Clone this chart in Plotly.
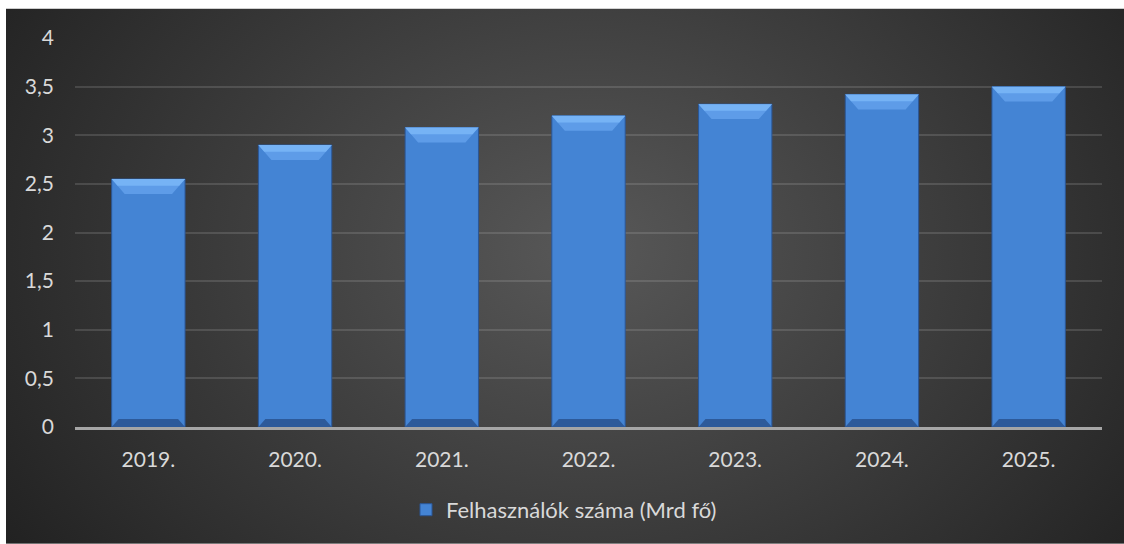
import base64
import plotly.graph_objects as go

# Data
years = ["2019.", "2020.", "2021.", "2022.", "2023.", "2024.", "2025."]
users_bn = [2.55, 2.9, 3.08, 3.2, 3.32, 3.42, 3.5]
series_name = "Felhasználók száma (Mrd fő)"
y_ticks = [0, 0.5, 1, 1.5, 2, 2.5, 3, 3.5, 4]
y_tick_text = ["0", "0,5", "1", "1,5", "2", "2,5", "3", "3,5", "4"]

W, H = 1124, 544
L, R, T, B = 75, 22, 37.5, 117
plot_w = W - L - R
plot_h = H - T - B

FONT = "Lato"
TXT = "#d9d9d9"
BAR_W = 0.5

xs = list(range(len(years)))

# bevel geometry (in axis units)
px_x = plot_w / len(years)
px_y = plot_h / 4.0
top_dy, top_dx = 15 / px_y, 13 / px_x
bot_dy, bot_dx = 8 / px_y, 7 / px_x


def trapezoids(depth, inset, at_top=True):
    tx, ty = [], []
    for x, v in zip(xs, users_bn):
        x0, x1 = x - BAR_W / 2, x + BAR_W / 2
        if at_top:
            y_out, y_in = v, v - depth
        else:
            y_out, y_in = 0, depth
        tx += [x0, x1, x1 - inset, x0 + inset, x0, None]
        ty += [y_out, y_out, y_in, y_in, y_out, None]
    return tx, ty


def add_face(tx, ty, color):
    fig.add_trace(go.Scatter(x=tx, y=ty, fill="toself", mode="lines",
                             fillcolor=color, line=dict(width=0),
                             showlegend=False, hoverinfo="skip"))


fig = go.Figure()

fig.add_trace(go.Bar(
    x=xs, y=users_bn, width=BAR_W, name=series_name,
    marker=dict(color="#4484d4", line=dict(color="#2b5797", width=1)),
    showlegend=True,
))

# top bevel faces
add_face(*trapezoids(top_dy, top_dx, True), "#5e9ce8")
add_face(*trapezoids(top_dy * 0.45, top_dx * 0.45, True), "#76b3f5")

# bottom bevel face
add_face(*trapezoids(bot_dy, bot_dx, False), "#2d5a9a")

# radial gradient backdrop for the chart area
svg = (
    '<svg xmlns="http://www.w3.org/2000/svg" width="1118" height="536" '
    'viewBox="0 0 1118 536" preserveAspectRatio="none">'
    '<defs><radialGradient id="g" cx="0.52" cy="0.45" r="0.62" '
    'gradientTransform="translate(0.52 0.45) scale(1 1.6) translate(-0.52 -0.45)">'
    '<stop offset="0" stop-color="#585858"/>'
    '<stop offset="1" stop-color="#222222"/>'
    '</radialGradient></defs>'
    '<rect width="1118" height="536" fill="url(#g)"/></svg>'
)
uri = "data:image/svg+xml;base64," + base64.b64encode(svg.encode()).decode()

fig.add_layout_image(dict(
    source=uri, xref="paper", yref="paper",
    x=(6 - L) / plot_w, y=(H - B - 8) / plot_h,
    sizex=(W - 6) / plot_w, sizey=(H - 8) / plot_h,
    xanchor="left", yanchor="top", sizing="stretch", layer="below",
))

fig.update_layout(
    width=W, height=H,
    margin=dict(l=L, r=R, t=T, b=B),
    paper_bgcolor="white", plot_bgcolor="rgba(0,0,0,0)",
    barmode="overlay",
    font=dict(family=FONT, color=TXT, size=21),
    showlegend=True,
    legend=dict(
        orientation="h", x=(564 - L) / plot_w, xanchor="center",
        y=(427 - 510) / plot_h, yanchor="middle",
        font=dict(family=FONT, color=TXT, size=22),
        bgcolor="rgba(0,0,0,0)", itemwidth=30,
    ),
    xaxis=dict(
        range=[-0.5, len(years) - 0.5], tickvals=xs, ticktext=years,
        showgrid=False, zeroline=False, showline=True,
        linecolor="#a6a6a6", linewidth=2.5, ticks="",
        ticklabelstandoff=12, tickfont=dict(size=21, color=TXT),
        fixedrange=True,
    ),
    yaxis=dict(
        range=[0, 4], tickvals=y_ticks, ticktext=y_tick_text,
        showgrid=True, gridcolor="rgba(200,200,200,0.18)", gridwidth=1.5,
        zeroline=False, showline=False, ticks="",
        ticklabelstandoff=20, tickfont=dict(size=21, color=TXT),
        fixedrange=True,
    ),
)

fig.write_html("out.html")
